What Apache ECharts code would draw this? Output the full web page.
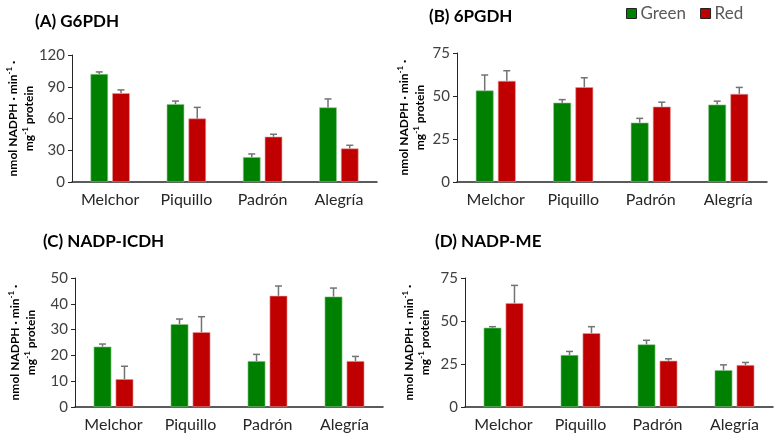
<!DOCTYPE html>
<html><head><meta charset="utf-8">
<script src="https://cdn.jsdelivr.net/npm/echarts@6/dist/echarts.min.js"></script>
<style>html,body{margin:0;padding:0;background:#fff}#c{width:780px;height:435px}</style>
</head><body><div id="c"></div>
<script>
var categories = ['Melchor', 'Piquillo', 'Padrón', 'Alegría'];
var titles = ['(A) G6PDH', '(B) 6PGDH', '(C) NADP-ICDH', '(D) NADP-ME'];
var yMax = [120, 75, 50, 75];
var yInterval = [30, 25, 10, 25];

var greenA = [102, 73.5, 23.5, 70.5];
var greenErrA = [2, 3, 3, 8];
var redA = [84, 60, 42.8, 31.7];
var redErrA = [3, 10.5, 2.3, 3];

var greenB = [53.2, 46.1, 34.5, 45];
var greenErrB = [9, 1.8, 2.5, 2];
var redB = [58.8, 55.1, 43.8, 51.2];
var redErrB = [5.9, 5.5, 2.6, 3.8];

var greenC = [23.4, 32.1, 17.8, 42.8];
var greenErrC = [1, 2, 2.6, 3.3];
var redC = [10.8, 29, 43.1, 17.8];
var redErrC = [5, 6, 3.8, 1.8];

var greenD = [46.1, 30.2, 36.4, 21.4];
var greenErrD = [0.6, 2.1, 2.4, 3.1];
var redD = [60.4, 42.9, 26.9, 24.4];
var redErrD = [10.3, 3.8, 1.1, 1.5];

var panels = [
  {g: greenA, ge: greenErrA, r: redA, re: redErrA},
  {g: greenB, ge: greenErrB, r: redB, re: redErrB},
  {g: greenC, ge: greenErrC, r: redC, re: redErrC},
  {g: greenD, ge: greenErrD, r: redD, re: redErrD}
];

var grids = [
  {left: 72, top: 55, width: 305, height: 127},
  {left: 457, top: 53, width: 310, height: 129},
  {left: 75, top: 278, width: 308, height: 129},
  {left: 465, top: 278, width: 308, height: 129}
];
var titlePos = [[30, 8], [424, 3], [38, 228], [430, 228]];
var nameGaps = [33, 29, 36, 32];

var FONT = 'Lato';
var BW = 0.23, GAP = 0.24;
var OFF = BW * (1 + GAP) / 2;

function errSeries(i, vals, errs, sign) {
  var data = vals.map(function (v, k) { return [k, v, v + errs[k]]; });
  return {
    type: 'custom', xAxisIndex: i, yAxisIndex: i, z: 5, silent: true,
    data: data,
    renderItem: function (params, api) {
      var k = api.value(0);
      var band = api.size([1, 0])[0];
      var base = api.coord([k, api.value(1)]);
      var top = api.coord([k, api.value(2)]);
      var x = base[0] + sign * OFF * band;
      var cap = 3.5;
      var st = {stroke: '#737373', lineWidth: 1.5};
      return {type: 'group', children: [
        {type: 'line', shape: {x1: x, y1: base[1], x2: x, y2: top[1]}, style: st},
        {type: 'line', shape: {x1: x - cap, y1: top[1], x2: x + cap, y2: top[1]}, style: st}
      ]};
    }
  };
}

var option = {
  animation: false,
  textStyle: {fontFamily: FONT},
  title: titles.map(function (t, i) {
    return {text: t, left: titlePos[i][0], top: titlePos[i][1],
      textStyle: {fontFamily: FONT, fontWeight: 'bold', fontSize: 17, color: '#000'}};
  }),
  legend: {
    data: ['Green', 'Red'], left: 621, top: 0, itemWidth: 10, itemHeight: 10, itemGap: 14,
    icon: 'rect',
    itemStyle: {borderColor: '#222', borderWidth: 1},
    textStyle: {fontFamily: FONT, fontSize: 17, color: '#595959', padding: [0, 0, 0, -1]}
  },
  grid: grids,
  xAxis: grids.map(function (g, i) {
    return {type: 'category', gridIndex: i, data: categories,
      axisLine: {lineStyle: {color: '#262626', width: 1.5}},
      axisTick: {show: false},
      axisLabel: {fontFamily: FONT, fontSize: 16, color: '#262626', margin: 10}};
  }),
  yAxis: grids.map(function (g, i) {
    return {type: 'value', gridIndex: i, min: 0, max: yMax[i], interval: yInterval[i],
      splitLine: {show: false},
      axisLine: {show: true, lineStyle: {color: '#262626', width: 1}},
      axisTick: {show: true, length: 4, lineStyle: {color: '#262626'}},
      axisLabel: {fontFamily: FONT, fontSize: 15, color: '#404040', margin: 7},
      name: '{b|nmol NADPH · min}{s|-1}{b| ·}\n{b|mg}{s|-1}{b| protein}',
      nameLocation: 'middle', nameRotate: 90, nameGap: nameGaps[i],
      nameTextStyle: {
        rich: {
          b: {fontFamily: FONT, fontSize: 12, fontWeight: 'bold', color: '#000', lineHeight: 16},
          s: {fontFamily: FONT, fontSize: 8, fontWeight: 'bold', color: '#000', verticalAlign: 'top', lineHeight: 16, padding: [0, 0, 5, 0]}
        }
      }};
  }),
  series: []
};

panels.forEach(function (p, i) {
  option.series.push({name: 'Green', type: 'bar', xAxisIndex: i, yAxisIndex: i, data: p.g,
    barWidth: (BW * 100) + '%', barGap: (GAP * 100) + '%',
    itemStyle: {color: '#008000', borderColor: '#8cc88c', borderWidth: 0.6}});
  option.series.push({name: 'Red', type: 'bar', xAxisIndex: i, yAxisIndex: i, data: p.r,
    barWidth: (BW * 100) + '%', barGap: (GAP * 100) + '%',
    itemStyle: {color: '#c00000', borderColor: '#e89a9a', borderWidth: 0.6}});
  option.series.push(errSeries(i, p.g, p.ge, -1));
  option.series.push(errSeries(i, p.r, p.re, 1));
});

var chart = echarts.init(document.getElementById('c'), null, {renderer: 'canvas'});
chart.setOption(option);
</script>
</body></html>
